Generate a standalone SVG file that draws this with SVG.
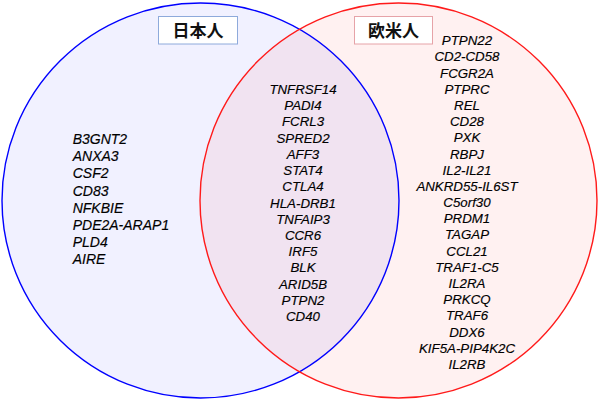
<svg xmlns="http://www.w3.org/2000/svg" width="599" height="401" viewBox="0 0 599 401">
<style>
.g{font-family:"Liberation Sans",Arial,sans-serif;font-style:italic;font-size:13.3px;fill:#000;stroke:#000;stroke-width:0.15}
.l{font-size:14px}
.c{text-anchor:middle}
.t{font-family:"Noto Sans CJK JP","Noto Sans CJK SC",sans-serif;font-weight:bold;font-size:17px;fill:#111;text-anchor:middle}
</style>
<rect width="599" height="401" fill="#fff"/>
<g id="japanese-set">
<ellipse cx="200.5" cy="200.5" rx="198.5" ry="197.5" fill="#0000ff" fill-opacity="0.055"/>
</g>
<g id="western-set">
<ellipse cx="398.5" cy="200.5" rx="198.5" ry="197.5" fill="#ff0000" fill-opacity="0.055"/>
</g>
<g id="outlines" fill="none" stroke-width="1.4">
<ellipse cx="200.5" cy="200.5" rx="198.5" ry="197.5" stroke="#0000ff"/>
<ellipse cx="398.5" cy="200.5" rx="198.5" ry="197.5" stroke="#ff1a1a"/>
</g>
<g id="label-japanese">
<rect x="158.5" y="16.5" width="79" height="27.5" fill="#fff" stroke="#8eaadb"/>
<text class="t" x="198" y="36.5">日本人</text>
</g>
<g id="label-western">
<rect x="354.5" y="16.5" width="78" height="27.5" fill="#fff" stroke="#e6a3a8"/>
<text class="t" x="393.5" y="36.5">欧米人</text>
</g>
<g id="japanese-only" class="g l">
<text x="72.7" y="144">B3GNT2</text>
<text x="72.7" y="161.2">ANXA3</text>
<text x="72.7" y="178.4">CSF2</text>
<text x="72.7" y="195.6">CD83</text>
<text x="72.7" y="212.8">NFKBIE</text>
<text x="72.7" y="230">PDE2A-ARAP1</text>
<text x="72.7" y="247.2">PLD4</text>
<text x="72.7" y="264.4">AIRE</text>
</g>
<g id="shared" class="g c">
<text x="303" y="93.8">TNFRSF14</text>
<text x="303" y="110">PADI4</text>
<text x="303" y="126.3">FCRL3</text>
<text x="303" y="142.5">SPRED2</text>
<text x="303" y="158.8">AFF3</text>
<text x="303" y="175">STAT4</text>
<text x="303" y="191.2">CTLA4</text>
<text x="303" y="207.5">HLA-DRB1</text>
<text x="303" y="223.7">TNFAIP3</text>
<text x="303" y="240">CCR6</text>
<text x="303" y="256.2">IRF5</text>
<text x="303" y="272.4">BLK</text>
<text x="303" y="288.7">ARID5B</text>
<text x="303" y="304.9">PTPN2</text>
<text x="303" y="321.2">CD40</text>
</g>
<g id="western-only" class="g c">
<text x="467" y="45.2">PTPN22</text>
<text x="467" y="61.4">CD2-CD58</text>
<text x="467" y="77.6">FCGR2A</text>
<text x="467" y="93.8">PTPRC</text>
<text x="467" y="110">REL</text>
<text x="467" y="126.1">CD28</text>
<text x="467" y="142.3">PXK</text>
<text x="467" y="158.5">RBPJ</text>
<text x="467" y="174.7">IL2-IL21</text>
<text x="467" y="190.9">ANKRD55-IL6ST</text>
<text x="467" y="207">C5orf30</text>
<text x="467" y="223.2">PRDM1</text>
<text x="467" y="239.4">TAGAP</text>
<text x="467" y="255.6">CCL21</text>
<text x="467" y="271.8">TRAF1-C5</text>
<text x="467" y="288">IL2RA</text>
<text x="467" y="304.1">PRKCQ</text>
<text x="467" y="320.3">TRAF6</text>
<text x="467" y="336.5">DDX6</text>
<text x="467" y="352.7">KIF5A-PIP4K2C</text>
<text x="467" y="368.9">IL2RB</text>
</g>
</svg>
